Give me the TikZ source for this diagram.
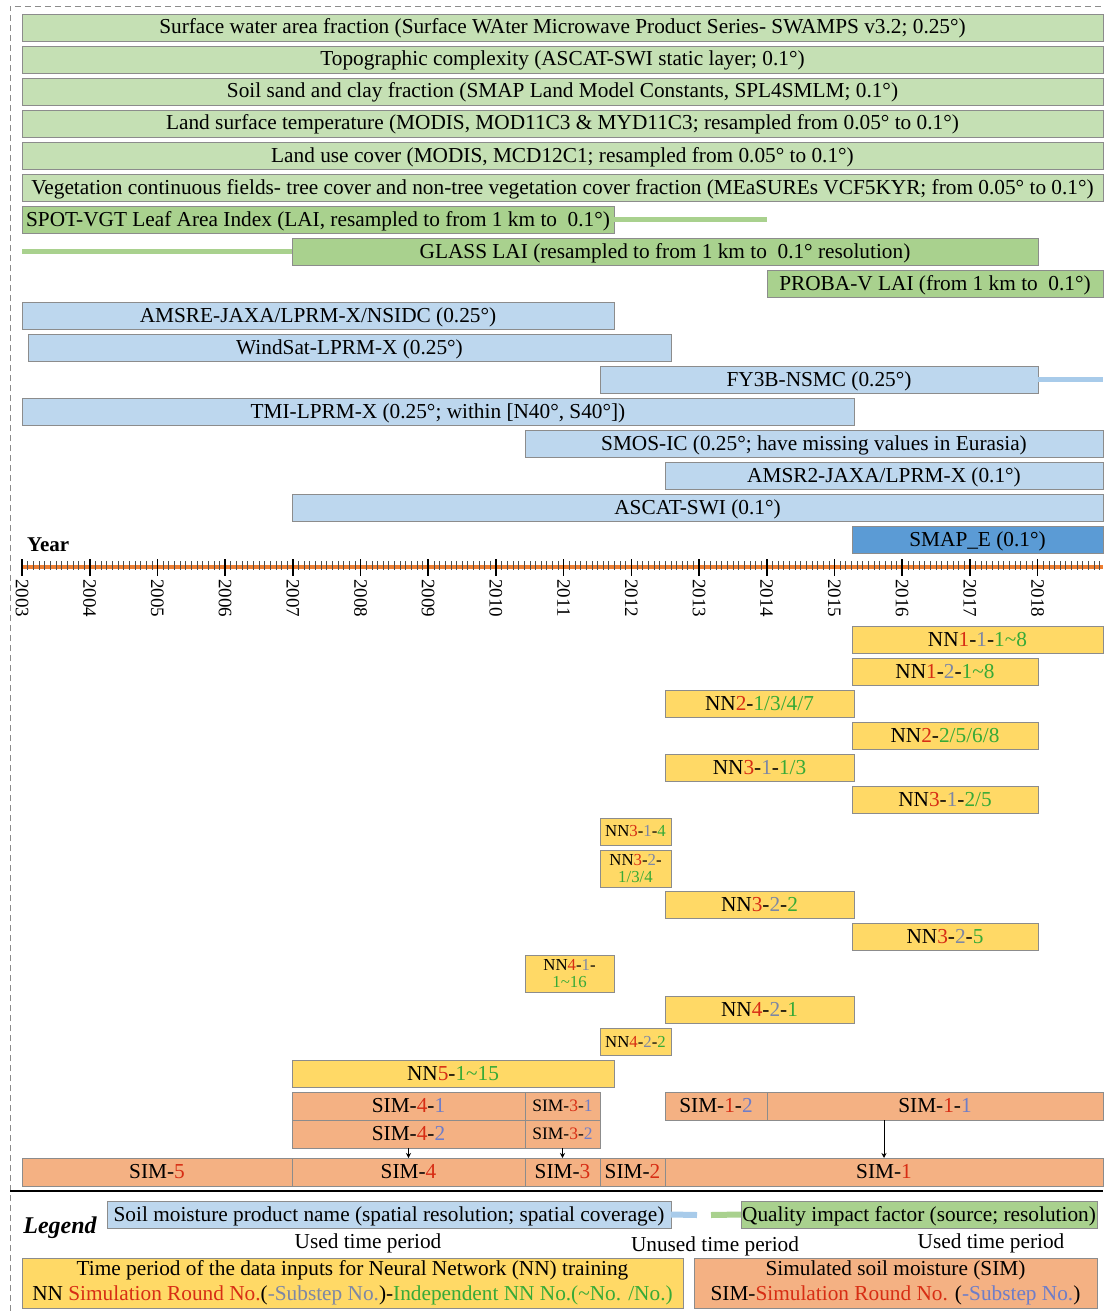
\documentclass[tikz,border=0pt]{standalone}
\usepackage{fontspec}
\setmainfont{Liberation Serif}
\usetikzlibrary{arrows.meta}
\definecolor{lgreen}{HTML}{C5E0B4}
\definecolor{mgreen}{HTML}{A9D18E}
\definecolor{lblue}{HTML}{BDD7EE}
\definecolor{lineblue}{HTML}{A8CBEA}
\definecolor{mblue}{HTML}{5B9BD5}
\definecolor{yel}{HTML}{FFD966}
\definecolor{ora}{HTML}{F4B183}
\definecolor{axor}{HTML}{ED7D31}
\definecolor{bord}{HTML}{8C8C8C}
\definecolor{tred}{RGB}{215,45,20}
\definecolor{tgray}{RGB}{125,135,165}
\definecolor{tgreen}{RGB}{55,170,55}
\definecolor{tblue}{RGB}{110,125,200}
\newcommand\txr[1]{\textcolor{tred}{#1}}
\newcommand\txs[1]{\textcolor{tgray}{#1}}
\newcommand\txg[1]{\textcolor{tgreen}{#1}}
\newcommand\txb[1]{\textcolor{tblue}{#1}}
\newcommand\mybar[7]{%
  \pgfmathsetmacro\bw{#4-#2}\pgfmathsetmacro\bh{#5-#3}%
  \node[#6, minimum width=\bw pt, minimum height=\bh pt, anchor=north west] (#1) at (#2,#3) {#7};}
\tikzset{
  basebox/.style={draw=bord, line width=0.6pt, inner sep=0pt, outer sep=0pt, font=\fontsize{21.3}{23}\selectfont},
  oneline/.style={text height=15.5pt, text depth=2.5pt},
  gbox/.style={basebox, oneline, fill=lgreen},
  dgbox/.style={basebox, oneline, fill=mgreen},
  bbox/.style={basebox, oneline, fill=lblue},
  dbbox/.style={basebox, oneline, fill=mblue},
  ybox/.style={basebox, oneline, fill=yel},
  ysmall/.style={basebox, fill=yel, font=\fontsize{16.8}{17.5}\selectfont, align=center},
  obox/.style={basebox, oneline, fill=ora},
  osmall/.style={basebox, fill=ora, font=\fontsize{17.5}{18}\selectfont, text height=12.5pt, text depth=2pt},
  gline/.style={mgreen, line width=5pt},
  bline/.style={lineblue, line width=5pt},
  simarrow/.style={-{Stealth[length=5pt,width=5pt]}, line width=0.9pt},
  plain/.style={font=\fontsize{21.3}{23}\selectfont, inner sep=0pt},
  yrlabel/.style={font=\fontsize{19}{19}\selectfont, rotate=-90, anchor=west, inner sep=0pt},
}
\begin{document}
\begin{tikzpicture}[x=1pt,y=-1pt]
\useasboundingbox (0,0) rectangle (1103,1311);
% frame
\draw[bord, dashed, dash pattern=on 6pt off 4pt, line width=0.8pt] (10,1311) -- (10,6) -- (1103,6);
% quality impact factors
\mybar{swa}{22}{14}{1103}{41}{gbox}{Surface water area fraction (Surface WAter Microwave Product Series- SWAMPS v3.2; 0.25°)}
\mybar{topo}{22}{46}{1103}{73}{gbox}{Topographic complexity (ASCAT-SWI static layer; 0.1°)}
\mybar{soil}{22}{78}{1103}{105}{gbox}{Soil sand and clay fraction (SMAP Land Model Constants, SPL4SMLM; 0.1°)}
\mybar{lst}{22}{110}{1103}{137}{gbox}{Land surface temperature (MODIS, MOD11C3 \& MYD11C3; resampled from 0.05° to 0.1°)}
\mybar{luc}{22}{142}{1103}{169}{gbox}{Land use cover (MODIS, MCD12C1; resampled from 0.05° to 0.1°)}
\mybar{vcf}{22}{174}{1103}{201}{gbox}{Vegetation continuous fields- tree cover and non-tree vegetation cover fraction (MEaSUREs VCF5KYR; from 0.05° to 0.1°)}
\mybar{spot}{22}{206}{614}{233}{dgbox}{SPOT-VGT Leaf Area Index (LAI, resampled to from 1 km to\ \ 0.1°)}
\mybar{glass}{292}{238}{1038}{265}{dgbox}{GLASS LAI (resampled to from 1 km to\ \ 0.1° resolution)}
\mybar{proba}{767}{270}{1103}{297}{dgbox}{PROBA-V LAI (from 1 km to\ \ 0.1°)}
\coordinate (spotend) at (767,219.5);
\coordinate (glassstart) at (22,251.5);
\draw[gline] (spot.east) -- (spotend);
\draw[gline] (glassstart) -- (glass.west);
% soil moisture products
\mybar{amsre}{22}{302}{614}{329}{bbox}{AMSRE-JAXA/LPRM-X/NSIDC (0.25°)}
\mybar{windsat}{28}{334}{671}{361}{bbox}{WindSat-LPRM-X (0.25°)}
\mybar{fy3b}{600}{366}{1038}{393}{bbox}{FY3B-NSMC (0.25°)}
\mybar{tmi}{22}{398}{854}{425}{bbox}{TMI-LPRM-X (0.25°; within [N40°, S40°])}
\mybar{smos}{525}{430}{1103}{457}{bbox}{SMOS-IC (0.25°; have missing values in Eurasia)}
\mybar{amsr2}{665}{462}{1103}{489}{bbox}{AMSR2-JAXA/LPRM-X (0.1°)}
\mybar{ascat}{292}{494}{1103}{521}{bbox}{ASCAT-SWI (0.1°)}
\mybar{smap}{852}{526}{1103}{553}{dbbox}{SMAP\_E (0.1°)}
\coordinate (fyend) at (1103,379.5);
\draw[bline] (fy3b.east) -- (fyend);
% time axis
\node[font=\bfseries\fontsize{21}{22}\selectfont, anchor=base west, inner sep=0pt] (yearlab) at (27,551) {Year};
\draw[axor, line width=4.5pt] (22,567) -- (1103,567);
\foreach \k in {0,...,191} {
  \draw[black!70, line width=0.5pt] ({22+67.7*\k/12},561) -- ({22+67.7*\k/12},570);
}
\foreach \yr in {2003,...,2018} {
  \draw[black, line width=1.6pt] ({22+67.7*(\yr-2003)},559) -- ({22+67.7*(\yr-2003)},576);
  \node[yrlabel] (y\yr) at ({22+67.7*(\yr-2003)},579) {\yr};
}
% NN training periods
\mybar{nn111}{852}{626}{1103}{653}{ybox}{NN\txr{1}-\txs{1}-\txg{1\textasciitilde8}}
\mybar{nn121}{852}{658}{1038}{685}{ybox}{NN\txr{1}-\txs{2}-\txg{1\textasciitilde8}}
\mybar{nn21}{665}{690}{854}{717}{ybox}{NN\txr{2}-\txg{1/3/4/7}}
\mybar{nn22}{852}{722}{1038}{749}{ybox}{NN\txr{2}-\txg{2/5/6/8}}
\mybar{nn311}{665}{754}{854}{781}{ybox}{NN\txr{3}-\txs{1}-\txg{1/3}}
\mybar{nn312}{852}{786}{1038}{813}{ybox}{NN\txr{3}-\txs{1}-\txg{2/5}}
\mybar{nn314}{600}{818}{671}{845}{ysmall}{NN\txr{3}-\txs{1}-\txg{4}}
\mybar{nn321}{600}{850}{671}{887}{ysmall}{NN\txr{3}-\txs{2}-\\\txg{1/3/4}}
\mybar{nn322}{665}{891}{854}{918}{ybox}{NN\txr{3}-\txs{2}-\txg{2}}
\mybar{nn325}{852}{923}{1038}{950}{ybox}{NN\txr{3}-\txs{2}-\txg{5}}
\mybar{nn41}{525}{955}{614}{992}{ysmall}{NN\txr{4}-\txs{1}-\\\txg{1\textasciitilde16}}
\mybar{nn421}{665}{996}{854}{1023}{ybox}{NN\txr{4}-\txs{2}-\txg{1}}
\mybar{nn422}{600}{1028}{671}{1055}{ysmall}{NN\txr{4}-\txs{2}-\txg{2}}
\mybar{nn5}{292}{1060}{614}{1087}{ybox}{NN\txr{5}-\txg{1\textasciitilde15}}
% simulations
\mybar{sim41}{292}{1092}{525}{1120}{obox}{SIM-\txr{4}-\txb{1}}
\mybar{sim42}{292}{1120}{525}{1148}{obox}{SIM-\txr{4}-\txb{2}}
\mybar{sim31}{525}{1092}{600}{1120}{osmall}{SIM-\txr{3}-\txb{1}}
\mybar{sim32}{525}{1120}{600}{1148}{osmall}{SIM-\txr{3}-\txb{2}}
\mybar{sim12}{665}{1092}{767}{1120}{obox}{SIM-\txr{1}-\txb{2}}
\mybar{sim11}{767}{1092}{1103}{1120}{obox}{SIM-\txr{1}-\txb{1}}
\mybar{sim5}{22}{1158}{292}{1186}{obox}{SIM-\txr{5}}
\mybar{sim4}{292}{1158}{525}{1186}{obox}{SIM-\txr{4}}
\mybar{sim3}{525}{1158}{600}{1186}{obox}{SIM-\txr{3}}
\mybar{sim2}{600}{1158}{665}{1186}{obox}{SIM-\txr{2}}
\mybar{sim1}{665}{1158}{1103}{1186}{obox}{SIM-\txr{1}}
\draw[simarrow] (sim42.south) -- (sim4.north);
\draw[simarrow] (sim32.south) -- (sim3.north);
\draw[simarrow] (sim1.north |- sim11.south) -- (sim1.north);
% separator
\draw[black, line width=2pt] (10,1190.5) -- (1103,1190.5);
% legend
\node[font=\bfseries\itshape\fontsize{24}{26}\selectfont, inner sep=0pt] (legend) at (60,1228) {Legend};
\mybar{legblue}{107}{1201}{671}{1228}{bbox}{Soil moisture product name (spatial resolution; spatial coverage)}
\mybar{leggreen}{741}{1201}{1097}{1228}{dgbox}{Quality impact factor (source; resolution)}
\coordinate (lbend) at (697,1215);
\coordinate (lgstart) at (711,1215);
\draw[bline, line width=6pt] (legblue.east) -- (lbend);
\draw[gline, line width=6pt] (lgstart) -- (leggreen.west);
\node[plain] (used1) at (368,1243) {Used time period};
\node[plain] (unused) at (715,1246) {Unused time period};
\node[plain] (used2) at (991,1243) {Used time period};
\mybar{legyel}{22}{1258}{683}{1308}{basebox, fill=yel, align=center, font=\fontsize{21.3}{25}\selectfont}{Time period of the data inputs for Neural Network (NN) training\\NN \txr{Simulation Round No.}(\txs{-Substep No.})-\txg{Independent NN No.(\textasciitilde No. /No.)}}
\mybar{legora}{694}{1258}{1097}{1308}{basebox, fill=ora, align=center, font=\fontsize{21.3}{25}\selectfont}{Simulated soil moisture (SIM)\\SIM-\txr{Simulation Round No.} (\txb{-Substep No.})}
\end{tikzpicture}
\end{document}
